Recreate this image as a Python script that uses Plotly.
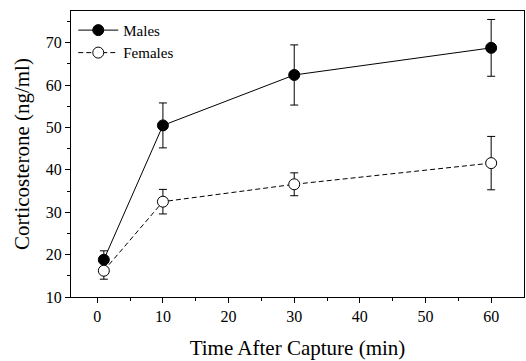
import plotly.graph_objects as go

time_min = [1, 10, 30, 60]
males = [18.8, 50.5, 62.4, 68.8]
males_err = [2.1, 5.3, 7.1, 6.7]
females = [16.2, 32.5, 36.6, 41.6]
females_err = [2.0, 2.9, 2.7, 6.3]

fig = go.Figure()
fig.add_trace(go.Scatter(
    x=time_min, y=males, name="Males", mode="lines+markers",
    line=dict(color="black", width=1),
    marker=dict(symbol="circle", size=11, color="black", line=dict(color="black", width=1)),
    error_y=dict(type="data", array=males_err, color="black", thickness=1, width=4),
))
fig.add_trace(go.Scatter(
    x=time_min, y=females, name="Females", mode="lines+markers",
    line=dict(color="black", width=1, dash="5px,3px"),
    marker=dict(symbol="circle", size=11, color="white", line=dict(color="black", width=1)),
    error_y=dict(type="data", array=females_err, color="black", thickness=1, width=4),
))

font_serif = "Liberation Serif"
fig.update_layout(
    width=526, height=361,
    margin=dict(l=71, r=2, t=11, b=64),
    paper_bgcolor="white", plot_bgcolor="white",
    font=dict(family=font_serif, color="black"),
    showlegend=True,
    legend=dict(x=0.005, y=0.99, xanchor="left", yanchor="top",
                bgcolor="rgba(0,0,0,0)", font=dict(size=15, family=font_serif),
                itemwidth=40, tracegroupgap=0),
    xaxis=dict(
        range=[-4, 65], tickvals=[0, 10, 20, 30, 40, 50, 60],
        ticks="outside", ticklen=5, tickcolor="black",
        minor=dict(tickvals=[5, 15, 25, 35, 45, 55], ticks="outside", ticklen=3, tickcolor="black"),
        showline=True, linecolor="black", linewidth=1, mirror=True,
        showgrid=False, zeroline=False,
        tickfont=dict(size=16, family=font_serif),
        title=dict(text="Time After Capture (min)", font=dict(size=21, family=font_serif), standoff=16),
    ),
    yaxis=dict(
        range=[10, 77.5], tickvals=[10, 20, 30, 40, 50, 60, 70],
        ticks="outside", ticklen=5, tickcolor="black",
        minor=dict(tickvals=[15, 25, 35, 45, 55, 65, 75], ticks="outside", ticklen=3, tickcolor="black"),
        showline=True, linecolor="black", linewidth=1, mirror=True,
        showgrid=False, zeroline=False,
        tickfont=dict(size=16, family=font_serif),
        title=dict(text="Corticosterone (ng/ml)", font=dict(size=21, family=font_serif), standoff=10),
    ),
)

fig.write_html("out.html")
